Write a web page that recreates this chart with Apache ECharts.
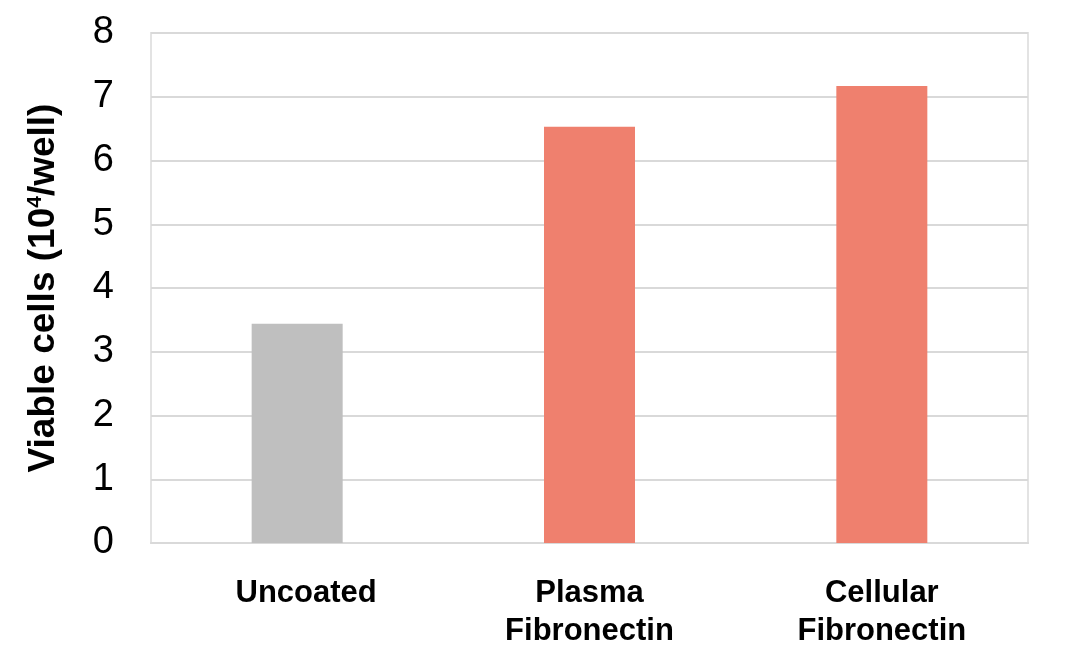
<!DOCTYPE html>
<html>
<head>
<meta charset="utf-8">
<script src="https://cdn.jsdelivr.net/npm/echarts@6/dist/echarts.min.js"></script>
<style>
    html, body { margin: 0; padding: 0; background: #fff; }
    #main { width: 1066px; height: 667px; }
</style>
</head>
<body>
<div id="main"></div>
<script>
// 类别与数值
var categories = ['Uncoated', 'Plasma\nFibronectin', 'Cellular\nFibronectin'];
var viableCells = [3.44, 6.53, 7.17];
var barColors = ['#bfbfbf', '#ef806e', '#ef806e'];
var yTicks = [0, 1, 2, 3, 4, 5, 6, 7, 8];

var chartDom = document.getElementById('main');
var myChart = echarts.init(chartDom);
var option;

var barData = [];
for (var i = 0; i < viableCells.length; i++) {
    barData.push({value: viableCells[i], itemStyle: {color: barColors[i]}});
}

var labelStyle = {
    color: '#000',
    fontSize: 31,
    fontWeight: 'bold',
    lineHeight: 38
};

option = {
    backgroundColor: '#fff',
    textStyle: {
        fontFamily: 'Liberation Sans, Arial, sans-serif'
    },
    grid: {
        left: 151,
        right: 38,
        top: 33,
        bottom: 124,
        show: true,
        borderColor: '#e3e3e3',
        borderWidth: 2
    },
    xAxis: {
        type: 'category',
        data: categories,
        axisTick: {show: false},
        axisLine: {
            show: true,
            lineStyle: {color: '#d9d9d9', width: 2}
        },
        axisLabel: {
            margin: 31,
            color: '#000',
            fontSize: 31,
            fontWeight: 'bold',
            lineHeight: 38,
            interval: 0,
            // 原图中 Uncoated 略微偏右
            formatter: function (value) {
                return value == 'Uncoated' ? '{u|' + value + '}' : value;
            },
            rich: {
                u: Object.assign({padding: [0, 0, 0, 18]}, labelStyle)
            }
        }
    },
    yAxis: {
        type: 'value',
        min: yTicks[0],
        max: yTicks[yTicks.length - 1],
        interval: 1,
        name: 'Viable cells (10{sup|4}/well)',
        nameLocation: 'middle',
        nameGap: 89,
        nameTextStyle: {
            color: '#000',
            fontSize: 37,
            fontWeight: 'bold',
            rich: {
                sup: {
                    fontSize: 21,
                    fontWeight: 'bold',
                    color: '#000',
                    verticalAlign: 'top',
                    padding: [0, 0, 14, 0]
                }
            }
        },
        axisLine: {show: false},
        axisTick: {show: false},
        splitLine: {
            lineStyle: {color: '#d9d9d9', width: 2}
        },
        axisLabel: {
            margin: 37,
            color: '#000',
            fontSize: 38
        }
    },
    series: [
        {
            type: 'bar',
            barWidth: 91,
            data: barData
        }
    ]
};

myChart.setOption(option);
</script>
</body>
</html>
